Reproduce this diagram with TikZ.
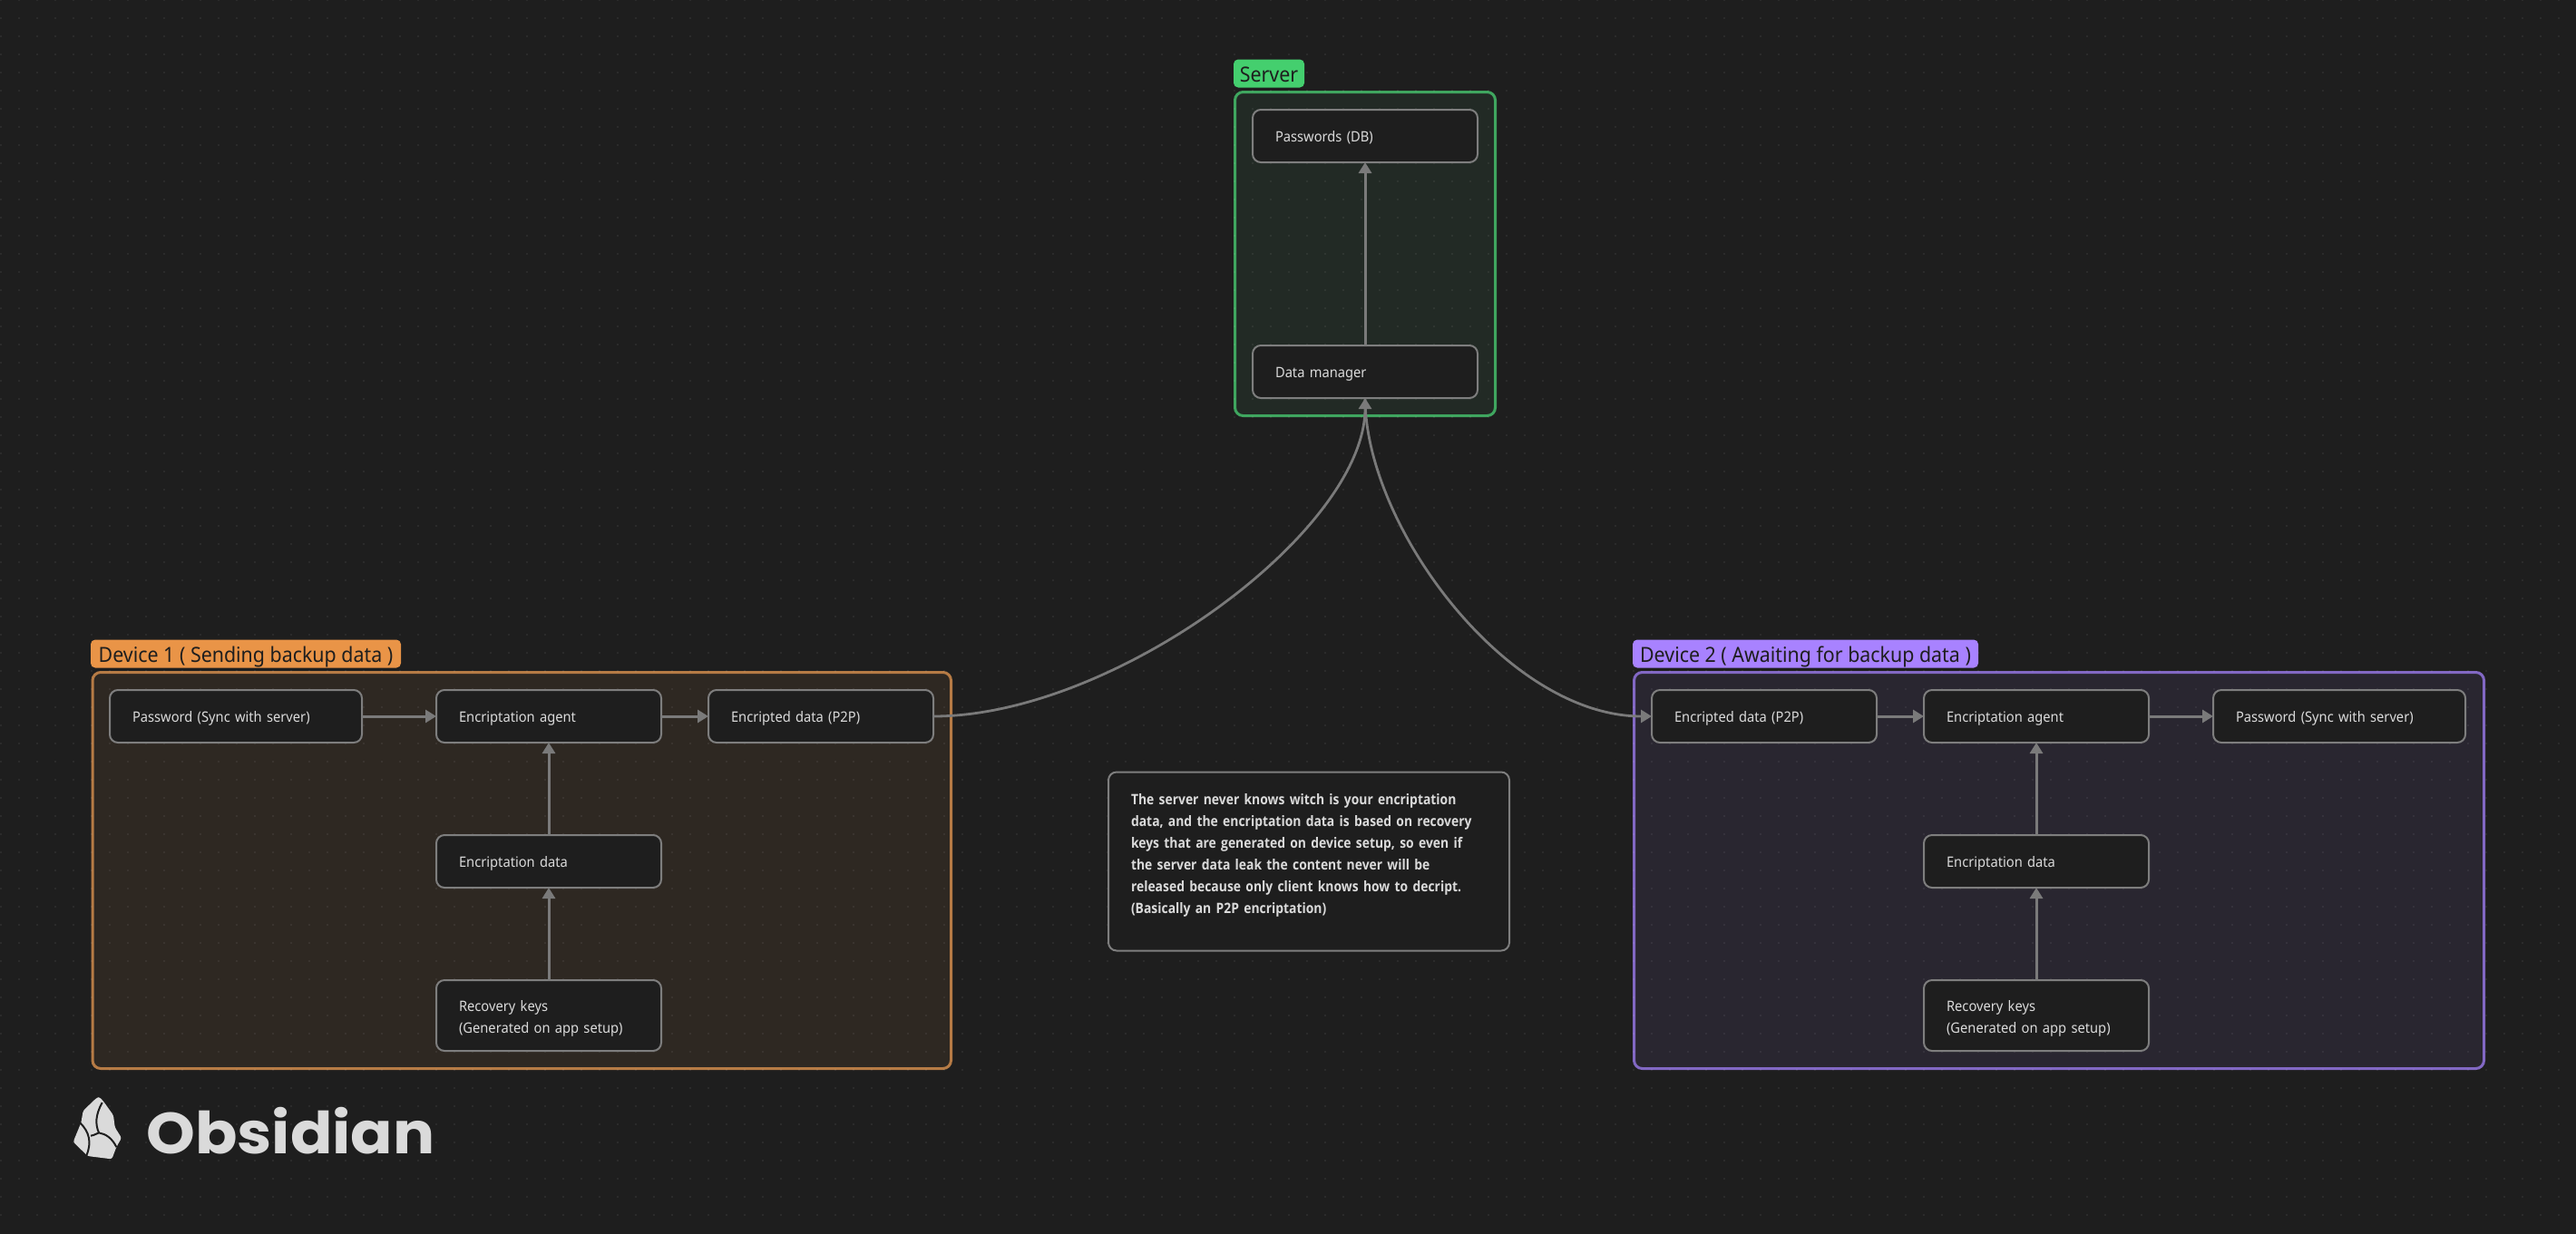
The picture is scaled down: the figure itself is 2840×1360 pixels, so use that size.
\documentclass[tikz,border=0pt]{standalone}
\usepackage{graphicx}
\usepackage{fontspec}
\setmainfont{Noto Sans}[FakeStretch=0.93]
\newfontfamily\notefont{Open Sans}[FakeStretch=0.88]
\newfontfamily\logofont{Poppins}
\usetikzlibrary{arrows.meta,positioning}
\definecolor{bgc}{HTML}{1E1E1E}
\definecolor{edgec}{HTML}{7A7A7A}
\definecolor{boxline}{HTML}{7E7E7E}
\definecolor{txtc}{HTML}{DADADA}
\definecolor{orl}{HTML}{E99447}
\definecolor{orb}{HTML}{B67B45}
\definecolor{orf}{HTML}{2E2822}
\definecolor{grl}{HTML}{44CF6E}
\definecolor{grb}{HTML}{3FA65F}
\definecolor{grf}{HTML}{222A25}
\definecolor{pul}{HTML}{A882FF}
\definecolor{pub}{HTML}{8268C4}
\definecolor{puf}{HTML}{292630}
\tikzset{
  x=0.5pt,y=-0.5pt,
  cardbox/.style 2 args={draw=boxline,line width=1pt,fill=bgc,rounded corners=4.5pt,outer sep=0pt,
    minimum width=#1*0.5pt,minimum height=#2*0.5pt,text width=#1*0.5pt-25pt,inner xsep=12.5pt,inner ysep=0pt,
    align=left,text=txtc,font=\fontsize{7.9pt}{12pt}\selectfont,
    execute at begin node={\rule[-3pt]{0pt}{12pt}}},
  notebox/.style={draw=boxline,line width=1pt,fill=bgc,rounded corners=4.5pt,outer sep=0pt,
    minimum width=221pt,minimum height=98.5pt,text width=196pt,inner xsep=12.5pt,inner ysep=0pt,
    align=left,text=txtc,font=\notefont\bfseries\fontsize{7.9pt}{12pt}\selectfont},
  framebox/.style n args={4}{draw=#3,fill=#4,line width=1.5pt,rounded corners=4.5pt,outer sep=0pt,
    minimum width=#1*0.5pt,minimum height=#2*0.5pt,inner sep=0pt},
  tagbox/.style={rounded corners=2.5pt,inner sep=0pt,outer sep=0pt,minimum height=15.5pt,
    text=bgc,font=\fontsize{11.5pt}{14pt}\selectfont,
    execute at begin node={\rule[-3pt]{0pt}{15.5pt}}},
  conn/.style={draw=edgec,line width=1.5pt,-{Triangle[length=6pt,width=7pt]}},
  curve/.style={draw=edgec,line width=1.4pt,-{Triangle[length=6pt,width=7pt]}},
  gridline/.style={draw=white,opacity=0.06,line width=0.7pt,dash pattern=on 0.7pt off 9.3pt}
}
\begin{document}
\begin{tikzpicture}
\useasboundingbox (0,0) rectangle (2840,1360);
\fill[bgc] (-6,-6) rectangle (2846,1366);
% group frames
\node[framebox={287}{357}{grb}{grf}] (server) at (1505,280) {};
\node[framebox={946.5}{437}{orb}{orf}] (dev1) at (575.25,960) {};
\node[framebox={937}{437}{pub}{puf}] (dev2) at (2270,960) {};
% canvas dot grid
\foreach \j in {0,...,67} { \draw[gridline] (0.3,20*\j) -- (2840,20*\j); }
% group tags
\node[tagbox,fill=grl,minimum width=39pt] (tags) at (1399,81) {Server};
\node[tagbox,fill=orl,minimum width=171pt] (tag1) at (271,721) {Device 1 ( Sending backup data )};
\node[tagbox,fill=pul,minimum width=190.5pt] (tag2) at (1990.5,721) {Device 2 ( Awaiting for backup data )};
% server cards
\node[cardbox={248}{58}] (db) at (1505,150) {Passwords (DB)};
\node[cardbox={248}{58}] (dm) at (1505,410) {Data manager};
% device 1 cards
\node[cardbox={278}{58}] (apw) at (260,790) {Password (Sync with server)};
\node[cardbox={248}{58}] (aag) at (605,790) {Encriptation agent};
\node[cardbox={248}{58}] (aen) at (905,790) {Encripted data (P2P)};
\node[cardbox={248}{58}] (ada) at (605,950) {Encriptation data};
\node[cardbox={248}{78}] (ark) at (605,1120) {Recovery keys\\(Generated on app setup)};
% device 2 cards
\node[cardbox={248}{58}] (ben) at (1945,790) {Encripted data (P2P)};
\node[cardbox={248}{58}] (bag) at (2245,790) {Encriptation agent};
\node[cardbox={278}{58}] (bpw) at (2579,790) {Password (Sync with server)};
\node[cardbox={248}{58}] (bda) at (2245,950) {Encriptation data};
\node[cardbox={248}{78}] (brk) at (2245,1120) {Recovery keys\\(Generated on app setup)};
% note
\node[notebox,anchor=north west,execute at end node={\par\vspace*{7pt}}] (note) at (1222,851.5)
  {The server never knows witch is your encriptation\\data, and the encriptation data is based on recovery\\keys that are generated on device setup, so even if\\the server data leak the content never will be\\released because only client knows how to decript.\\(Basically an P2P encriptation)};
% connectors
\draw[conn] (dm) -- (db);
\draw[conn] (apw) -- (aag);
\draw[conn] (aag) -- (aen);
\draw[conn] (ada) -- (aag);
\draw[conn] (ark) -- (ada);
\draw[conn] (ben) -- (bag);
\draw[conn] (bag) -- (bpw);
\draw[conn] (bda) -- (bag);
\draw[conn] (brk) -- (bda);
\draw[curve] (aen.east) .. controls (1229,790) and (1505,585) .. (dm.south);
\draw[curve] (dm.south) .. controls (1505,580) and (1661,790) .. (ben.west);
% logo
\begin{scope}[shift={(60,1180)},x=0.1667pt,y=-0.1667pt]
\fill[txtc,rounded corners=1.2pt] (150,90) -- (165,108) -- (195,150) -- (200,190) -- (222,225) -- (205,255) -- (190,295) -- (110,285) -- (62,238) -- (88,175) -- (95,135) -- (140,92) -- cycle;
\draw[bgc,line width=1pt] (158,108) .. controls (135,150) and (135,180) .. (147,208);
\draw[bgc,line width=1pt] (85,175) .. controls (115,205) and (125,240) .. (105,285);
\draw[bgc,line width=1pt] (120,218) .. controls (135,215) and (140,210) .. (147,208) .. controls (170,212) and (190,225) .. (205,255);
\end{scope}
\node[text=txtc,inner sep=0pt,font=\logofont\bfseries\fontsize{32pt}{32pt}\selectfont,anchor=west] (logo) at (161,1247) {\scalebox{1.07}[1]{Obsidian}};
\end{tikzpicture}
\end{document}
